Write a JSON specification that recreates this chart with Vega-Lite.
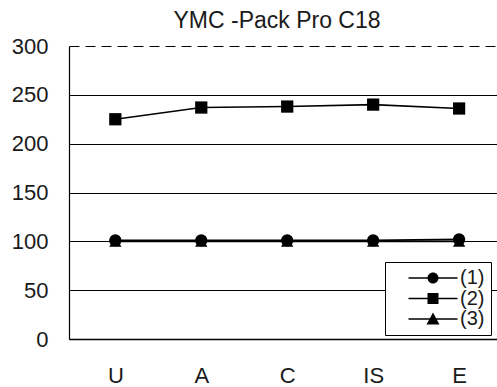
{
  "$schema": "https://vega.github.io/schema/vega-lite/v6.json",
  "width": 428,
  "height": 293,
  "autosize": "none",
  "padding": {"left": 69, "top": 46, "right": 0, "bottom": 48},
  "background": "white",
  "config": {"view": {"stroke": null}},
  "title": {"text": "YMC -Pack Pro C18", "font": "Liberation Sans", "fontSize": 23, "fontWeight": "normal", "color": "#1a1a1a", "offset": 2, "anchor": "middle", "dx": -6},
  "data": {"values": [
    {"sample": "U", "series": "(1)", "value": 101},
    {"sample": "A", "series": "(1)", "value": 101},
    {"sample": "C", "series": "(1)", "value": 101},
    {"sample": "IS", "series": "(1)", "value": 101},
    {"sample": "E", "series": "(1)", "value": 102},
    {"sample": "U", "series": "(2)", "value": 225},
    {"sample": "A", "series": "(2)", "value": 237},
    {"sample": "C", "series": "(2)", "value": 238},
    {"sample": "IS", "series": "(2)", "value": 240},
    {"sample": "E", "series": "(2)", "value": 236},
    {"sample": "U", "series": "(3)", "value": 100},
    {"sample": "A", "series": "(3)", "value": 100},
    {"sample": "C", "series": "(3)", "value": 100},
    {"sample": "IS", "series": "(3)", "value": 100},
    {"sample": "E", "series": "(3)", "value": 100}
  ]},
  "encoding": {
    "x": {"field": "sample", "type": "ordinal", "sort": ["U", "A", "C", "IS", "E"],
      "scale": {"type": "point", "padding": 0.49, "align": 0.55},
      "axis": {"title": null, "labelAngle": 0, "ticks": false, "domainColor": "black", "domainWidth": 1.5, "labelFont": "Liberation Sans", "labelFontSize": 22, "labelColor": "#1a1a1a", "labelPadding": 26, "grid": false}},
    "y": {"field": "value", "type": "quantitative",
      "scale": {"domain": [0, 300], "nice": false},
      "axis": {"title": null, "values": [0, 50, 100, 150, 200, 250, 300], "ticks": false, "domainColor": "black", "domainWidth": 1.2, "labelFont": "Liberation Sans", "labelFontSize": 22, "labelColor": "#1a1a1a", "labelPadding": 21, "grid": true, "gridColor": "black", "gridOpacity": 1, "gridWidth": 1,
        "gridDash": {"condition": {"test": "datum.value == 300", "value": [10, 6]}, "value": []}}}
  },
  "layer": [
    {"mark": {"type": "line", "color": "black", "strokeWidth": 1.6}, "encoding": {"detail": {"field": "series"}}},
    {"mark": {"type": "point", "filled": true, "color": "black", "size": 150, "opacity": 1},
      "encoding": {"shape": {"field": "series", "type": "nominal",
        "scale": {"domain": ["(1)", "(2)", "(3)"], "range": ["circle", "square", "triangle-up"]},
        "legend": null}}},
    {"transform": [{"filter": "datum.value < 0"}],
      "mark": {"type": "point", "filled": true, "color": "black", "opacity": 1},
      "encoding": {"shape": {"field": "series", "type": "nominal",
        "scale": {"domain": ["(1)", "(2)", "(3)"], "range": [
          "M-4.9,-0.16H4.9V0.16H-4.9ZM1.1,0A1.1,1.1,0,1,1,-1.1,0A1.1,1.1,0,1,1,1.1,0Z",
          "M-4.9,-0.16H4.9V0.16H-4.9ZM-1.1,-1.1H1.1V1.1H-1.1Z",
          "M-4.9,-0.16H4.9V0.16H-4.9ZM0,-1.3L1.3,1.1H-1.3Z"]},
        "legend": {"title": null, "orient": "none", "legendX": 316, "legendY": 216,
          "strokeColor": "black", "fillColor": "white", "padding": 6,
          "symbolSize": 100, "symbolOffset": 32, "labelOffset": 17,
          "labelFont": "Liberation Sans", "labelFontSize": 20, "labelColor": "#1a1a1a", "rowPadding": 0.5}}}}
  ],
  "resolve": {"scale": {"shape": "independent"}, "legend": {"shape": "independent"}}
}
